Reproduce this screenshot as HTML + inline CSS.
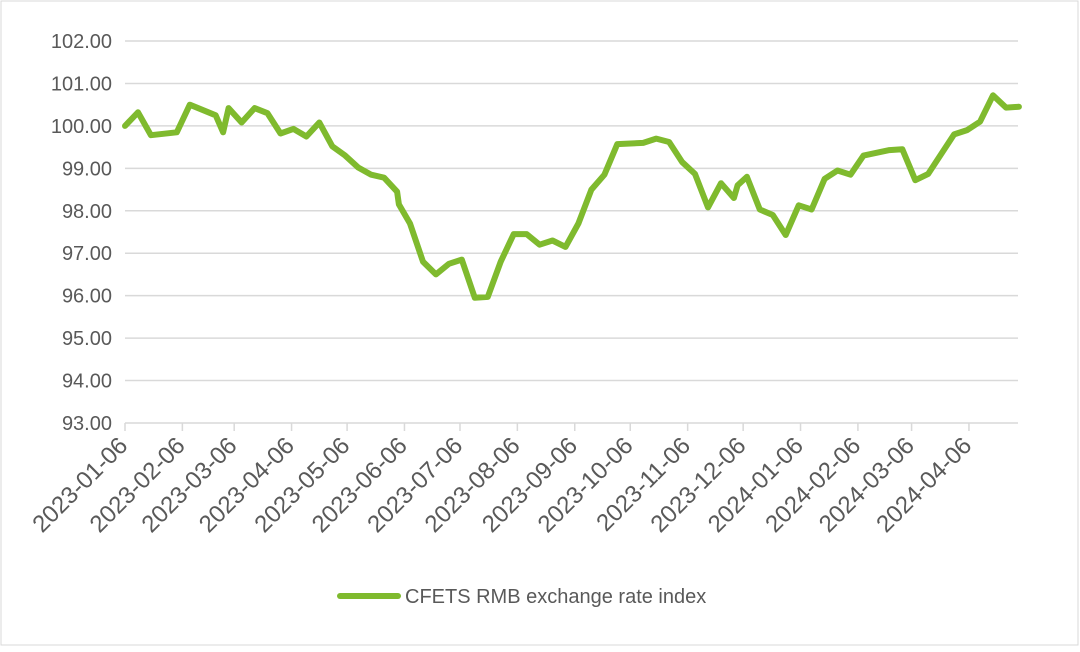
<!DOCTYPE html>
<html><head><meta charset="utf-8"><style>
body{margin:0;background:#fff;}
svg text{font-family:"Liberation Sans",sans-serif;fill:#595959;}
</style></head><body>
<svg id="chart" width="1080" height="647" xmlns="http://www.w3.org/2000/svg">
<rect x="1" y="1" width="1077" height="644" fill="#fff" stroke="#d9d9d9"/>
<g id="grid"></g><g id="yaxis"></g><g id="xaxis"></g><g id="series"></g>
<g>
<line x1="340" y1="596" x2="398" y2="596" stroke="#7fba2e" stroke-width="6" stroke-linecap="round"/>
<text x="405" y="603" font-size="20">CFETS RMB exchange rate index</text>
</g>
</svg>
<script>
const dayOffsets=[0,7,14,28,35,49,53,56,63,70,77,84,91,98,105,112,119,126,133,140,147,148,154,161,168,175,182,189,196,203,210,217,224,231,238,245,252,259,266,280,287,294,301,308,315,322,329,331,336,343,350,357,364,371,378,385,392,399,413,420,427,434,448,455,462,469,476,483];
const values=[100.0,100.32,99.78,99.85,100.5,100.25,99.85,100.42,100.08,100.42,100.3,99.82,99.93,99.75,100.08,99.52,99.3,99.02,98.85,98.78,98.45,98.15,97.7,96.8,96.5,96.75,96.85,95.95,95.97,96.8,97.45,97.45,97.2,97.3,97.15,97.7,98.5,98.85,99.57,99.6,99.7,99.62,99.15,98.87,98.08,98.65,98.3,98.6,98.8,98.03,97.9,97.43,98.13,98.03,98.75,98.95,98.85,99.3,99.43,99.45,98.72,98.87,99.8,99.9,100.1,100.72,100.43,100.45];
const yTicks=[93,94,95,96,97,98,99,100,101,102];
const xTickOffsets=[0,31,59,90,120,151,181,212,243,273,304,334,365,396,425,456];
const xTickLabels=["2023-01-06","2023-02-06","2023-03-06","2023-04-06","2023-05-06","2023-06-06","2023-07-06","2023-08-06","2023-09-06","2023-10-06","2023-11-06","2023-12-06","2024-01-06","2024-02-06","2024-03-06","2024-04-06"];
const NS="http://www.w3.org/2000/svg";
const X0=125,X1=1018,Y0=423,Y1=41,DMAX=482.5;
const xs=d=>X0+(X1-X0)*d/DMAX;
const ys=v=>Y0-(Y0-Y1)*(v-93)/9;
function mk(t,a,p){const e=document.createElementNS(NS,t);for(const k in a)e.setAttribute(k,a[k]);p.appendChild(e);return e;}
const grid=document.getElementById('grid'),ya=document.getElementById('yaxis'),xa=document.getElementById('xaxis'),se=document.getElementById('series');
yTicks.forEach(v=>{
 const l=mk('line',{x1:X0,x2:X1,y1:ys(v),y2:ys(v),stroke:'#d9d9d9','stroke-width':1.5},grid);
 
 
 const t=mk('text',{x:112,y:ys(v)+7,'text-anchor':'end','font-size':20},ya);
 t.textContent=v.toFixed(2);
 
 
});
xTickOffsets.forEach((d,i)=>{
 const x=xs(d);
 const tk=mk('line',{x1:x,x2:x,y1:Y0,y2:Y0+8,stroke:'#d9d9d9','stroke-width':1.5},xa);
 
 
 const t=mk('text',{x:x+4,y:447,'text-anchor':'end','font-size':24,transform:`rotate(-45 ${x+4} 447)`},xa);
 t.textContent=xTickLabels[i];
 
 
});
const pts=dayOffsets.map((d,i)=>xs(d).toFixed(1)+','+ys(values[i]).toFixed(1)).join(' ');
const pl=mk('polyline',{points:pts,fill:'none',stroke:'#7fba2e','stroke-width':6,'stroke-linejoin':'round','stroke-linecap':'round'},se);


</script>
</body></html>
